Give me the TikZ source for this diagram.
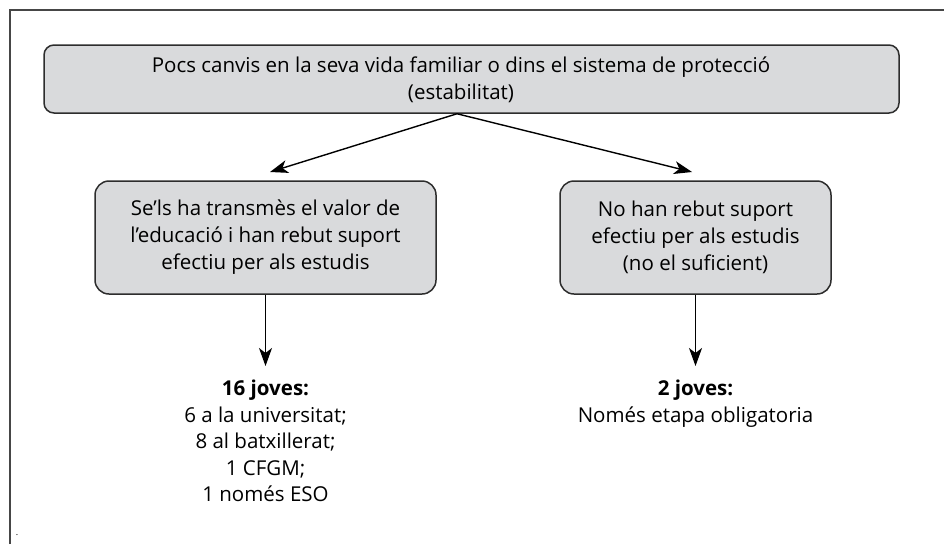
\documentclass[tikz,border=0pt]{standalone}
\usepackage{fontspec}
\setmainfont{Open Sans}
\usetikzlibrary{arrows.meta,positioning,calc}
\definecolor{boxfill}{RGB}{217,218,220}
\definecolor{boxline}{RGB}{45,45,45}
\definecolor{frameline}{RGB}{70,70,70}
\tikzset{
  greybox/.style={draw=boxline, fill=boxfill, line width=1.5pt, inner sep=0pt, align=center},
  txt/.style={font=\fontsize{20.5}{27}\selectfont, align=center, text=black},
  outtxt/.style={font=\fontsize{20.5}{26.5}\selectfont, align=center, text=black, inner sep=14pt, anchor=north},
  arr/.style={line width=1.4pt, -{Stealth[length=18pt,width=13pt,inset=5pt]}}
}
\begin{document}
\begin{tikzpicture}[x=1pt,y=-1pt]
\useasboundingbox (0,0) rectangle (944,544);
% frame
\draw[frameline, line width=1.5pt] (10,544) -- (10,10) -- (944,10);
\node[font=\fontsize{9}{9}\selectfont, inner sep=0pt] (dot) at (17,535) {.};
% top box
\node[greybox, rounded corners=10pt, minimum width=855pt, minimum height=68pt] (top) at (471.5,79) {};
\node[txt, inner sep=0pt] (toptext) at (461,80) {Pocs canvis en la seva vida familiar o dins el sistema de protecció\\(estabilitat)};
% second level
\node[greybox, rounded corners=14pt, minimum width=341pt, minimum height=113pt, txt] (L) at (265.5,237.5) {Se’ls ha transmès el valor de\\l’educació i han rebut suport\\efectiu per als estudis};
\node[greybox, rounded corners=14pt, minimum width=271pt, minimum height=113pt, txt] (R) at (695.5,237.5) {No han rebut suport\\efectiu per als estudis\\(no el suficient)};
% outcomes
\node[outtxt] (B1) at (265.5,366) {\textbf{16 joves:}\\6 a la universitat;\\8 al batxillerat;\\1 CFGM;\\1 només ESO};
\node[outtxt] (B2) at (695.5,366) {\textbf{2 joves:}\\Només etapa obligatoria};
% connectors
\coordinate (o) at ([xshift=-14.5pt]top.south);
\coordinate (tipL) at (270,172);
\coordinate (tipR) at (692,172);
\draw[arr] (o) -- (tipL);
\draw[arr] (o) -- (tipR);
\draw[arr] (L.south) -- (B1.north);
\draw[arr] (R.south) -- (B2.north);
\end{tikzpicture}
\end{document}
